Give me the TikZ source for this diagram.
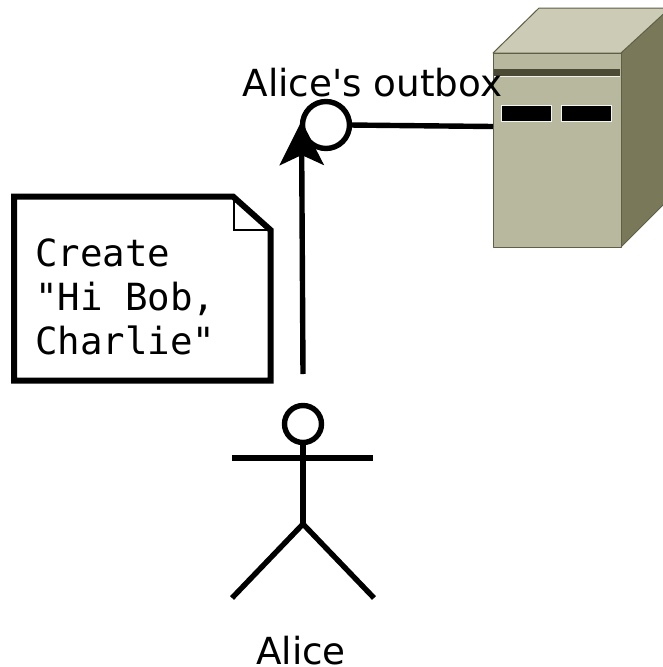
\documentclass[tikz,border=0pt]{standalone}
\usepackage{fontspec}
\newfontfamily\labelfont{DejaVu Sans}
\newfontfamily\codefont{DejaVu Sans Mono}
\usetikzlibrary{arrows.meta}
\definecolor{srvfront}{HTML}{B8B89E}
\definecolor{srvtop}{HTML}{CBCBB6}
\definecolor{srvside}{HTML}{79795A}
\definecolor{srvedge}{HTML}{5F5F48}
\definecolor{srvbar}{HTML}{4A4A35}
\tikzset{
  x=1pt,y=-1pt,
  heavy/.style={draw=black,line width=5.4pt},
  label text/.style={font=\labelfont\fontsize{37.3}{37.3}\selectfont,anchor=base,inner sep=0pt,text=black},
  code text/.style={font=\codefont\fontsize{37.4}{37.4}\selectfont,anchor=base west,inner sep=0pt,text=black},
  slot/.style={fill=black,draw=white!85!srvfront,line width=0.8pt},
  srvface/.style={draw=srvedge,line width=1pt,line join=round},
  ringnode/.style={circle,heavy,fill=white,minimum size=47pt,inner sep=0pt,outer sep=0pt},
  headnode/.style={circle,heavy,fill=white,minimum size=37pt,inner sep=0pt,outer sep=0pt},
  frontnode/.style={rectangle,minimum width=128pt,minimum height=194pt,inner sep=0pt,outer sep=0pt},
}
\begin{document}
\begin{tikzpicture}
\useasboundingbox (0,0) rectangle (663,667);
\clip (0,0) rectangle (663,667);
% server
\filldraw[srvface,fill=srvside] (621,53) -- (670,4) -- (670,198) -- (621,247) -- cycle;
\filldraw[srvface,fill=srvtop] (493,53) -- (539,8) -- (670,8) -- (621,53) -- cycle;
\node[frontnode,srvface,fill=srvfront] (server) at (557,150) {};
\fill[srvbar] (494,69) rectangle (620,76);
\draw[white!80!srvfront,line width=1pt] (494,76.5) -- (620,76.5);
\filldraw[slot] (501,105) rectangle (551,121);
\filldraw[slot] (561,105) rectangle (611,121);
% outbox
\node[label text] (outboxlabel) at (372.5,96.5) {Alice's outbox};
\coordinate (kink) at (395,125.5);
\node[ringnode] (outbox) at (326,125) {};
\draw[heavy] (outbox.east) -- (kink) -- (server.west |- 0,126.5);
% note
\draw[line width=2pt] (234,197) -- (234,230) -- (270.5,230);
\draw[line width=6pt,miter limit=10] (233,196.5) -- (14,196.5) -- (14,380.5) -- (270.5,380.5) -- (270.5,230) -- cycle;
\node[code text] (l1) at (35,266.5) {Create};
\node[code text] (l2) at (35,310.5) {"Hi Bob,};
\node[code text] (l3) at (35,354.5) {Charlie"};
% actor
\node[headnode] (head) at (303,424) {};
\coordinate (hip) at (303,524);
\coordinate (handl) at (232,458);
\coordinate (handr) at (373,458);
\coordinate (footl) at (232,598);
\coordinate (footr) at (374,598);
\draw[heavy] (head.south) -- (hip);
\draw[heavy] (handl) -- (handr);
\draw[heavy] (footl) -- (hip) -- (footr);
\node[label text] (alicelabel) at (301,664) {Alice};
% arrow
\coordinate (arrowstart) at (303,374);
\coordinate (arrowtip) at (301.5,121);
\draw[heavy,-{Stealth[length=44pt,width=44pt,inset=10pt]}] (arrowstart) -- (arrowtip);
\end{tikzpicture}
\end{document}
